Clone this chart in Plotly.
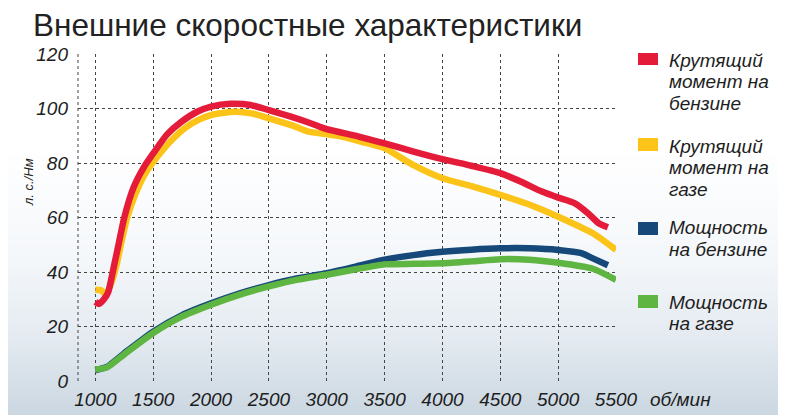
import plotly.graph_objects as go

# ---------------- data ----------------
rpm_torque_petrol = [1000, 1030, 1070, 1110, 1160, 1200, 1250, 1330, 1420, 1500, 1620, 1740,
                     1880, 2000, 2170, 2340, 2500, 2690, 2860, 3000, 3270, 3500, 3750, 4000,
                     4250, 4500, 4680, 4860, 5000, 5145, 5260, 5350, 5430]
torque_petrol = [29.0, 28.3, 29.8, 32.5, 42, 50, 60, 71, 78.5, 83.5, 90.5, 95,
                 98.8, 100.7, 101.7, 101.3, 99.4, 97, 94.6, 92.4, 89.8, 87.2, 84.2, 81.4,
                 79, 76.3, 73.1, 69.5, 67.3, 65.2, 61.5, 57.9, 56.4]

rpm_torque_gas = [1000, 1050, 1090, 1130, 1180, 1220, 1275, 1350, 1430, 1530, 1650, 1780,
                  1900, 2000, 2200, 2350, 2500, 2700, 2840, 3000, 3120, 3300, 3500, 3750,
                  4000, 4250, 4500, 4760, 5000, 5300, 5500]
torque_gas = [33.5, 33.3, 31.8, 35, 42, 50, 60, 69, 76, 82, 88, 93,
              96, 97.6, 98.8, 98.2, 96.4, 93.8, 91.5, 90.6, 89.8, 87.8, 85.4, 79.2,
              74.4, 71.5, 68.3, 64.6, 60.3, 54.2, 48.1]

rpm_power_petrol = [1000, 1100, 1250, 1500, 1750, 2000, 2250, 2500, 2750, 3000, 3250,
                    3500, 3750, 4000, 4250, 4500, 4750, 5000, 5200, 5300, 5430]
power_petrol = [4.0, 5.2, 10.2, 18.1, 24.2, 28.5, 32.2, 35.2, 37.7, 39.6, 42.0,
                44.5, 46.2, 47.4, 48.2, 48.7, 48.7, 48.1, 46.9, 45.0, 42.5]

rpm_power_gas = [1000, 1100, 1250, 1500, 1750, 2000, 2250, 2500, 2750, 3000, 3250,
                 3500, 3750, 4000, 4250, 4500, 4750, 5000, 5300, 5500]
power_gas = [4.2, 5.0, 9.8, 17.6, 23.7, 28.0, 31.7, 34.7, 37.2, 39.0, 41.0,
             42.8, 43.0, 43.2, 43.9, 44.7, 44.5, 43.4, 41.2, 37.1]

x_ticks = [1000, 1500, 2000, 2500, 3000, 3500, 4000, 4500, 5000, 5500]
y_ticks = [0, 20, 40, 60, 80, 100, 120]

title_text = "Внешние скоростные характеристики"
y_title = "л. с./Нм"
x_title = "об/мин"
legend_labels = [["Крутящий", "момент на", "бензине"],
                 ["Крутящий", "момент на", "газе"],
                 ["Мощность", "на бензине"],
                 ["Мощность", "на газе"]]
series_colors = ["#e41c3a", "#fcc318", "#16497a", "#5fb541"]

# ---------------- layout helpers ----------------
OFF = 8                       # the page body offsets the figure by 8px
W, H = 786 - OFF, 415 - OFF
L, R, T, B = 78 - OFF, 616 - OFF, 54 - OFF, 381 - OFF
PW, PH = R - L, B - T


def px(x):                    # window pixel -> paper x
    return (x - OFF - L) / PW


def py(y):                    # window pixel -> paper y
    return (B - (y - OFF)) / PH


FONT = "Liberation Sans"
TXT = "#1e1e1e"

fig = go.Figure()

series = [
    (rpm_torque_gas, torque_gas, series_colors[1]),
    (rpm_torque_petrol, torque_petrol, series_colors[0]),
    (rpm_power_petrol, power_petrol, series_colors[2]),
    (rpm_power_gas, power_gas, series_colors[3]),
]
for xs, ys, col in series:
    fig.add_trace(go.Scatter(x=xs, y=ys, mode="lines",
                             line=dict(color=col, width=6.5, shape="spline", smoothing=0.6),
                             showlegend=False, hoverinfo="skip"))

shapes = []
# background gradient (white at top -> light blue-grey at bottom)
stops = [(0, (255, 255, 255)), (150, (255, 255, 255)), (260, (244, 247, 250)),
         (340, (227, 234, 240)), (415, (203, 215, 225))]


def col_at(yp):
    for (y0, c0), (y1, c1) in zip(stops[:-1], stops[1:]):
        if y0 <= yp <= y1:
            t = (yp - y0) / (y1 - y0)
            return tuple(round(a + (b - a) * t) for a, b in zip(c0, c1))
    return stops[-1][1]


step = 5
for yp in range(140, 415, step):
    c = col_at(yp + step / 2)
    shapes.append(dict(type="rect", xref="paper", yref="paper", x0=-0.3, x1=1.5,
                       y0=py(yp + step + 0.5), y1=py(yp), line=dict(width=0),
                       fillcolor="rgb(%d,%d,%d)" % c, layer="below"))

# left dotted border of the plot
shapes.append(dict(type="line", xref="paper", yref="paper", x0=0, x1=0, y0=0, y1=1,
                   line=dict(color="#444", width=1, dash="dot"), layer="below"))

# legend swatches
sw_y = [(53, 65), (138, 151), (222, 235), (295, 308)]
for (a, b), col in zip(sw_y, series_colors):
    shapes.append(dict(type="rect", xref="paper", yref="paper", x0=px(638), x1=px(658),
                       y0=py(b), y1=py(a), line=dict(width=0), fillcolor=col))

annotations = []
first_line_y = [60, 146, 228, 302]
LS = 21.6
for lines, y0 in zip(legend_labels, first_line_y):
    for k, s in enumerate(lines):
        annotations.append(dict(text="<i>%s</i>" % s, xref="paper", yref="paper",
                                x=px(667), y=py(y0 + k * LS),
                                xanchor="left", yanchor="middle", showarrow=False,
                                font=dict(family=FONT, size=19, color=TXT)))

annotations.append(dict(text=title_text, xref="paper", yref="paper", x=px(31), y=py(25),
                        xanchor="left", yanchor="middle", showarrow=False,
                        font=dict(family=FONT, size=31.5, color="#222")))
annotations.append(dict(text="<i>%s</i>" % y_title, xref="paper", yref="paper", x=px(28), y=py(182),
                        xanchor="center", yanchor="middle", showarrow=False, textangle=-90,
                        font=dict(family=FONT, size=13, color=TXT)))
annotations.append(dict(text="<i>%s</i>" % x_title, xref="paper", yref="paper", x=px(680), y=py(399),
                        xanchor="center", yanchor="middle", showarrow=False,
                        font=dict(family=FONT, size=19, color=TXT)))

fig.update_layout(
    width=W, height=H,
    margin=dict(l=L, r=W - R, t=T, b=H - B, pad=0, autoexpand=False),
    paper_bgcolor="white", plot_bgcolor="rgba(0,0,0,0)",
    shapes=shapes, annotations=annotations,
    showlegend=False,
)
fig.update_xaxes(range=[850, 5500], tickvals=x_ticks, ticktext=["<i>%d</i>" % v for v in x_ticks],
                 showgrid=True, gridcolor="#444", griddash="dot", gridwidth=1, automargin=False,
                 zeroline=False, showline=False, ticks="", ticklabelstandoff=5,
                 tickfont=dict(family=FONT, size=19, color=TXT))
fig.update_yaxes(range=[0, 120], tickvals=y_ticks, ticktext=["<i>%d</i>" % v for v in y_ticks],
                 showgrid=True, gridcolor="#444", griddash="dot", gridwidth=1, automargin=False,
                 zeroline=False, showline=False, ticks="", ticklabelstandoff=9,
                 tickfont=dict(family=FONT, size=19, color=TXT))

fig.write_html("out.html")
